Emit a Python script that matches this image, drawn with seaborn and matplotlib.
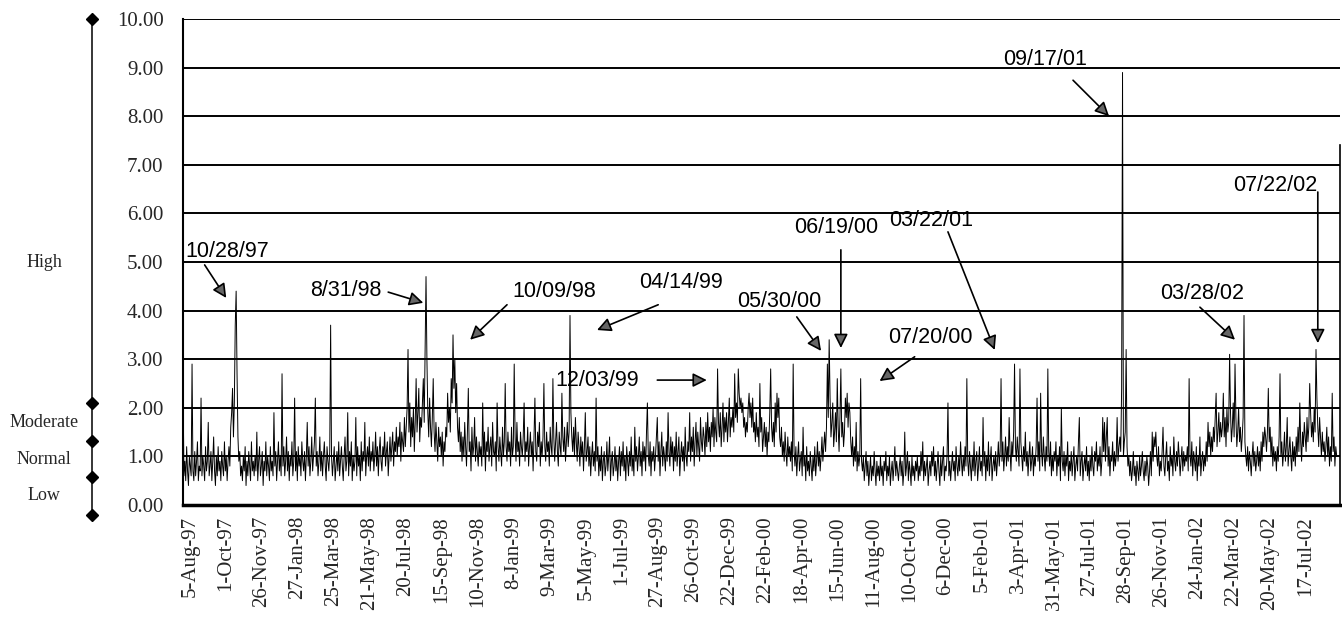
import numpy as np
import pandas as pd
import seaborn as sns
import matplotlib.pyplot as plt
from matplotlib import transforms

# daily index values (in tenths), one list per year
y1997 = [24, 6, 9, 5, 12, 7, 4, 10, 8, 6, 29, 7, 5, 11, 6, 9, 13, 5, 8, 7,
         22, 6, 10, 8, 5, 12, 7, 9, 17, 6, 8, 11, 5, 9, 14, 7, 4, 10, 6, 12,
         7, 9, 5, 11, 8, 6, 13, 7, 10, 5, 9, 12, 8, 16, 19, 24, 14, 21, 37, 44,
         27, 14, 9, 11, 6, 8, 5, 10, 7, 12, 4, 9, 6, 11, 8, 5, 13, 7, 9, 6,
         10, 7, 15, 5, 9, 12, 6, 8, 11, 4, 9, 7, 13, 6, 10, 8, 5, 12, 7, 9,
         6, 19, 8, 11, 5, 9, 13, 7, 10, 6, 27]
y1998 = [8, 12, 6, 9, 14, 7, 11, 5, 10, 8, 13, 6, 9, 22, 7, 11, 5, 12, 8, 10,
         6, 13, 9, 7, 11, 5, 10, 17, 8, 12, 6, 9, 14, 7, 10, 13, 22, 8, 11, 6,
         9, 14, 7, 11, 6, 10, 13, 8, 5, 12, 9, 7, 11, 37, 10, 6, 9, 12, 5, 8,
         11, 7, 13, 6, 9, 12, 8, 5, 10, 14, 7, 9, 19, 6, 11, 8, 13, 5, 10, 7,
         9, 18, 6, 12, 8, 10, 5, 13, 7, 11, 9, 17, 6, 10, 12, 8, 14, 7, 11, 9,
         13, 7, 10, 15, 8, 12, 6, 11, 14, 9, 7, 12, 10, 15, 8, 11, 13, 6, 10, 14,
         9, 12, 15, 8, 13, 11, 16, 10, 14, 12, 17, 9, 15, 13, 11, 18, 12, 16, 20, 32,
         15, 21, 12, 18, 14, 20, 11, 17, 26, 15, 19, 24, 13, 18, 16, 21, 26, 17, 32, 47,
         30, 19, 14, 22, 16, 12, 18, 26, 15, 11, 17, 13, 9, 16, 12, 14, 10, 15, 8, 13,
         11, 16, 14, 23, 17, 20, 15, 26, 21, 35, 24, 30, 19, 25, 16, 13, 18, 11, 15, 9,
         14, 10, 17, 12, 8, 15, 24, 11, 13, 7, 16, 10, 12, 18, 9, 14, 11, 8, 13, 10,
         12, 8, 21, 10, 15, 7, 13, 11, 16, 9, 12, 14, 8, 17, 11, 10, 13, 7, 21, 12,
         9, 14, 11, 8, 16, 10, 13, 25, 12, 9, 15, 11]
y1999 = [13, 8, 16, 10, 12, 29, 14, 9, 17, 11, 13, 8, 15, 12, 10, 14, 21, 9, 13, 11,
         16, 8, 12, 15, 10, 13, 7, 14, 22, 11, 9, 15, 12, 17, 8, 13, 10, 14, 25, 12,
         9, 15, 11, 13, 8, 16, 12, 10, 26, 14, 9, 13, 17, 11, 8, 15, 12, 10, 23, 14,
         11, 16, 9, 13, 17, 12, 15, 39, 19, 14, 11, 16, 10, 18, 13, 9, 15, 12, 8, 14,
         10, 13, 7, 12, 19, 9, 11, 14, 8, 12, 6, 10, 13, 8, 11, 7, 22, 9, 12, 6,
         10, 7, 12, 5, 9, 11, 6, 8, 13, 7, 10, 14, 5, 9, 11, 6, 8, 12, 7, 10,
         5, 9, 12, 6, 11, 8, 13, 7, 10, 5, 12, 9, 6, 11, 8, 14, 7, 10, 6, 16,
         9, 12, 7, 10, 14, 8, 11, 6, 13, 9, 12, 7, 15, 21, 10, 8, 13, 6, 11, 9,
         12, 7, 10, 14, 18, 9, 13, 6, 11, 15, 8, 12, 10, 7, 13, 9, 19, 11, 8, 14,
         10, 13, 7, 12, 9, 15, 8, 11, 14, 6, 10, 13, 9, 12, 7, 16, 10, 8, 13, 11,
         19, 9, 14, 11, 16, 8, 13, 17, 10, 15, 12, 9, 18, 13, 11, 16, 14, 10, 17, 12,
         19, 13, 16, 11, 17, 14, 20, 12, 18, 15, 13, 28, 17, 14, 19, 12, 16, 21, 13, 18,
         15, 19, 13, 17, 22, 14, 18, 16, 20, 15, 27, 18]
y2000 = [21, 17, 28, 23, 20, 22, 19, 21, 16, 18, 14, 17, 15, 20, 23, 18, 21, 16, 22, 15,
         17, 13, 19, 14, 16, 12, 25, 15, 18, 11, 14, 17, 12, 16, 10, 15, 13, 19, 28, 16,
         13, 17, 12, 21, 15, 23, 18, 22, 14, 12, 16, 10, 13, 9, 15, 11, 8, 14, 10, 12,
         9, 13, 7, 29, 11, 8, 12, 6, 10, 13, 7, 9, 11, 6, 16, 8, 10, 5, 12, 7,
         9, 6, 11, 8, 5, 10, 7, 12, 6, 9, 13, 8, 11, 7, 10, 14, 9, 12, 15, 11,
         16, 29, 18, 34, 22, 14, 17, 21, 12, 15, 19, 13, 26, 16, 11, 18, 28, 14, 17, 12,
         15, 22, 18, 23, 16, 21, 19, 13, 10, 14, 8, 12, 9, 17, 7, 11, 8, 10, 26, 9,
         7, 10, 5, 8, 11, 6, 9, 4, 7, 10, 5, 8, 6, 11, 7, 4, 9, 6, 8, 5,
         10, 6, 8, 4, 9, 7, 11, 5, 8, 6, 10, 4, 7, 9, 5, 8, 12, 6, 9, 7,
         5, 8, 10, 6, 9, 4, 7, 15, 6, 8, 11, 5, 9, 7, 4, 10, 6, 8, 5, 9,
         7, 10, 5, 8, 6, 11, 7, 13, 5, 9, 6, 8, 10, 4, 7, 9, 6, 11, 8, 12,
         6, 9, 5, 8, 11, 7, 4, 10, 6, 9, 12, 5, 8, 7, 10, 21, 6, 9, 5, 8,
         11, 7, 9, 5, 12, 8, 6, 10, 7, 13, 9, 6]
y2001 = [10, 7, 12, 8, 26, 9, 6, 11, 8, 5, 10, 7, 13, 6, 9, 11, 5, 8, 12, 7,
         9, 6, 18, 8, 11, 5, 10, 7, 13, 6, 9, 12, 5, 8, 10, 7, 11, 6, 9, 13,
         8, 11, 26, 9, 13, 7, 10, 14, 8, 12, 9, 18, 11, 7, 13, 10, 15, 29, 12, 9,
         14, 11, 8, 28, 13, 10, 7, 12, 9, 15, 8, 11, 6, 10, 13, 7, 9, 12, 6, 10,
         8, 12, 22, 9, 13, 7, 23, 11, 8, 14, 10, 7, 12, 9, 28, 11, 8, 13, 6, 10,
         7, 11, 9, 13, 6, 10, 8, 12, 5, 20, 9, 7, 11, 6, 10, 8, 13, 5, 9, 7,
         11, 6, 9, 12, 5, 8, 10, 7, 13, 18, 6, 9, 11, 5, 8, 10, 7, 12, 6, 9,
         5, 10, 7, 12, 8, 6, 11, 9, 13, 7, 10, 8, 12, 6, 9, 18, 11, 17, 9, 14,
         18, 8, 12, 6, 10, 9, 13, 7, 11, 8, 10, 18, 9, 12, 14, 11, 24, 89, 10, 13,
         15, 32, 12, 8, 10, 6, 9, 5, 7, 11, 6, 8, 4, 9, 7, 5, 10, 6, 8, 11,
         7, 5, 9, 6, 10, 8, 4, 7, 11, 6, 15, 9, 14, 12, 15, 10, 8, 12, 6, 9,
         7, 11, 16, 8, 6, 10, 13, 7, 9, 5, 12, 8, 10, 6, 14, 9, 7, 11, 8, 13,
         10, 6, 9, 12, 7, 11, 8, 10]
y2002 = [9, 12, 7, 26, 10, 8, 13, 6, 11, 9, 7, 12, 5, 10, 8, 14, 6, 9, 11, 7,
         10, 8, 13, 9, 17, 12, 15, 10, 14, 11, 16, 13, 18, 23, 12, 15, 19, 13, 17, 14,
         16, 23, 14, 18, 12, 20, 15, 17, 31, 19, 13, 16, 21, 14, 29, 18, 12, 15, 20, 13,
         16, 11, 14, 18, 39, 13, 10, 8, 12, 7, 11, 9, 6, 10, 13, 8, 11, 7, 9, 12,
         8, 11, 7, 13, 9, 15, 12, 16, 14, 11, 15, 24, 13, 16, 10, 14, 8, 12, 9, 11,
         7, 12, 9, 14, 27, 10, 13, 8, 11, 15, 9, 12, 18, 8, 11, 14, 10, 7, 13, 9,
         12, 8, 14, 10, 16, 11, 21, 13, 9, 15, 12, 17, 14, 11, 18, 13, 16, 25, 19, 14,
         17, 13, 20, 15, 32, 22, 16, 12, 18, 14, 10, 15, 11, 13, 9, 12, 16, 10, 14, 8,
         12, 9, 23, 11, 14, 8, 12, 10]

tick_labels = ['5-Aug-97', '1-Oct-97', '26-Nov-97', '27-Jan-98', '25-Mar-98',
               '21-May-98', '20-Jul-98', '15-Sep-98', '10-Nov-98', '8-Jan-99',
               '9-Mar-99', '5-May-99', '1-Jul-99', '27-Aug-99', '26-Oct-99',
               '22-Dec-99', '22-Feb-00', '18-Apr-00', '15-Jun-00', '11-Aug-00',
               '10-Oct-00', '6-Dec-00', '5-Feb-01', '3-Apr-01', '31-May-01',
               '27-Jul-01', '28-Sep-01', '26-Nov-01', '24-Jan-02', '22-Mar-02',
               '20-May-02', '17-Jul-02']

# annotations: label, text position, arrow tail, arrow tip (day index, value)
notes = [
    ('10/28/97', (49, 5.21), (24, 4.94), (48, 4.26)),
    ('8/31/98', (181, 4.42), (228, 4.38), (267, 4.16)),
    ('10/09/98', (413, 4.40), (360, 4.12), (319, 3.40)),
    ('04/14/99', (553, 4.57), (528, 4.12), (460, 3.60)),
    ('12/03/99', (460, 2.57), (527, 2.57), (582, 2.57)),
    ('05/30/00', (663, 4.18), (682, 3.87), (709, 3.17)),
    ('06/19/00', (726, 5.70), (731, 5.25), (731, 3.23)),
    ('03/22/01', (831, 5.86), (850, 5.62), (902, 3.19)),
    ('07/20/00', (831, 3.44), (813, 3.05), (774, 2.55)),
    ('09/17/01', (958, 9.16), (989, 8.74), (1029, 8.00)),
    ('03/28/02', (1133, 4.36), (1130, 4.07), (1169, 3.40)),
    ('07/22/02', (1214, 6.58), (1261, 6.44), (1261, 3.33)),
]

level_names = ['High', 'Moderate', 'Normal', 'Low']
level_label_y = [4.98, 1.69, 0.93, 0.19]
level_marks = [10, 2.1, 1.32, 0.58, -0.21]

vals = np.array(y1997 + y1998 + y1999 + y2000 + y2001 + y2002) / 10.0
df = pd.DataFrame({'day': np.arange(len(vals)), 'value': vals})

sns.set_theme(style='white')
plt.rcParams['font.family'] = ['Liberation Serif', 'DejaVu Serif']

fig = plt.figure(figsize=(13.42, 6.19), dpi=100)
ax = fig.add_axes([0.1364, 0.1842, 0.862, 0.7851])

sns.lineplot(data=df, x='day', y='value', color='black', lw=0.7, ax=ax)

ax.set_xlim(0, 1285.5)
ax.set_ylim(0, 10)
ax.set_xlabel('')
ax.set_ylabel('')
ax.set_yticks(range(0, 11))
ax.set_yticklabels(['%.2f' % v for v in range(0, 11)], fontsize=15)
ax.yaxis.grid(True, color='black', lw=1.4)
ax.xaxis.grid(False)
ax.tick_params(axis='y', direction='out', length=6, width=1.2, color='black', pad=8)

ax.set_xticks(np.arange(len(tick_labels)) * 40)
ax.set_xticklabels(tick_labels, rotation=90, fontsize=15)
ax.tick_params(axis='x', length=0, pad=8)
shift = transforms.ScaledTranslation(7 / 100, 0, fig.dpi_scale_trans)
for lab in ax.get_xticklabels():
    lab.set_transform(lab.get_transform() + shift)

for s in ['left', 'bottom', 'right', 'top']:
    ax.spines[s].set_color('black')
ax.spines['left'].set_linewidth(1.5)
ax.spines['bottom'].set_linewidth(2.5)
ax.spines['top'].set_visible(False)
ax.spines['right'].set_linewidth(1.2)
ax.spines['right'].set_bounds(0, 7.4)

for txt, tpos, tail, tip in notes:
    ax.text(tpos[0], tpos[1], txt, ha='center', va='center', fontsize=15.5,
            family=['Liberation Sans', 'DejaVu Sans'], color='black')
    ax.annotate('', xy=tip, xytext=tail,
                arrowprops=dict(arrowstyle='-|>,head_length=0.7,head_width=0.35',
                                color='black', lw=1.2, fc='#666666',
                                shrinkA=0, shrinkB=0))

# qualitative scale on the left
side = transforms.blended_transform_factory(fig.transFigure, ax.transData)
ax.plot([0.0686] * 2, [level_marks[-1], level_marks[0]], color='black', lw=1.1,
        transform=side, clip_on=False)
ax.plot([0.0686] * len(level_marks), level_marks, ls='none', marker='D',
        ms=6, color='black', transform=side, clip_on=False)
for name, yv in zip(level_names, level_label_y):
    ax.text(0.033, yv, name, ha='center', va='center', fontsize=13,
            transform=side, clip_on=False)

fig.savefig('out.png', dpi=100)
